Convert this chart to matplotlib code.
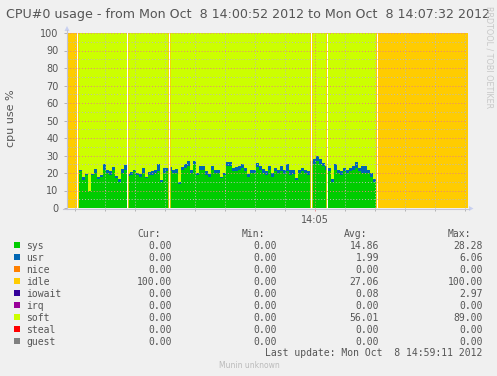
import numpy as np
import matplotlib
matplotlib.use("Agg")
import matplotlib.pyplot as plt
from matplotlib.patches import Polygon, Rectangle
from matplotlib.lines import Line2D

W, H = 497, 376
STEP = 3                      # seconds per stored sample
START_S = 14 * 3600 + 52      # 14:00:52
END_S = 14 * 3600 + 7 * 60 + 32   # 14:07:32

# ---- series (3-second samples, percent) ----
sys_vals = [0, 0, 0, 0,
            21, 16, 19, 10, 19, 20, 16.5, 18, 22, 20, 19, 22, 17, 15, 20, 22,
            18.5, 19, 21, 19, 18, 20, 17, 19, 19, 20, 21, 15, 20, 21,
            21, 20, 20, 14, 22, 23, 24, 20, 25, 19,
            22, 22, 19, 18, 22, 20, 20, 17, 19, 24,
            24, 21, 21, 22, 23, 21, 18, 20, 20, 23.5,
            22, 20, 19, 22, 18, 21, 20, 21, 19.5, 21,
            19, 19.5, 16, 20, 21, 20, 19,
            24, 25, 27, 25, 24, 22,
            21, 15, 22, 20, 19, 21, 20, 21, 22, 23, 21, 20, 20, 20, 18, 15,
            0, 0, 0, 0, 0, 0, 0, 0, 0, 0, 0, 0, 0, 0, 0, 0,
            0, 0, 0, 0, 0, 0, 0, 0, 0, 0, 0, 0, 0, 0, 0]
usr_vals = [0, 0, 0, 0,
            1, 1.5, 0.5, 0, 0.5, 2.5, 1, 1, 3, 2, 2, 1.5, 1.5, 1.5, 2.5, 2.5,
            1, 1.5, 1, 1, 1.5, 3, 1, 1.5, 2, 2, 4, 1, 3, 2,
            2.5, 2, 2.5, 1, 1.5, 2, 3, 2, 2, 1,
            2, 2, 2, 1.5, 2, 2, 1.5, 1, 1, 2.5,
            2.5, 2, 2.5, 2, 2, 2, 1.5, 2, 2, 2,
            2, 2.5, 2, 2, 2, 2, 1.5, 3, 2, 4,
            2.5, 2.5, 1, 2, 2, 2, 2,
            3, 3, 3, 3, 2, 2,
            2, 1.5, 3, 2, 2, 2, 2, 2, 2, 3.5, 2, 4, 4, 2, 2, 1.5,
            0, 0, 0, 0, 0, 0, 0, 0, 0, 0, 0, 0, 0, 0, 0, 0,
            0, 0, 0, 0, 0, 0, 0, 0, 0, 0, 0, 0, 0, 0, 0]
idle_vals = [100, 100, 100, 100,
             0, 0, 0, 0, 0, 0, 0, 0, 0, 0, 0, 0, 0, 0, 0, 0,
             0, 0, 0, 0, 0, 0, 0, 0, 0, 0, 0, 0, 0, 0,
             0, 0, 0, 0, 0, 0, 0, 0, 0, 0,
             0, 0, 0, 0, 0, 0, 0, 0, 0, 0,
             0, 0, 0, 0, 0, 0, 0, 0, 0, 0,
             0, 0, 0, 0, 0, 0, 0, 0, 0, 0,
             0, 0, 0, 0, 0, 0, 0,
             0, 0, 0, 0, 0, 0,
             0, 0, 0, 0, 0, 0, 0, 0, 0, 0, 0, 0, 0, 0, 0, 0,
             100, 100, 100, 100, 100, 100, 100, 100, 100, 100, 100, 100, 100, 100, 100, 100,
             100, 100, 100, 100, 100, 100, 100, 100, 100, 100, 100, 100, 100, 100, 100]
# unknown (missing) samples, seconds after start
unknown_secs = [10, 60, 102, 244, 260, 310]
# single-second idle flashes next to the gaps
idle_flash_secs = [61, 101, 103, 243, 245, 259]

# ---- legend table ----
labels = ["sys", "usr", "nice", "idle", "iowait", "irq", "soft", "steal", "guest"]
colors = ["#00CC00", "#0066B3", "#FF8000", "#FFCC00", "#330099",
          "#990099", "#CCFF00", "#FF0000", "#808080"]
cur_vals = [0.00, 0.00, 0.00, 100.00, 0.00, 0.00, 0.00, 0.00, 0.00]
min_vals = [0.00, 0.00, 0.00, 0.00, 0.00, 0.00, 0.00, 0.00, 0.00]
avg_vals = [14.86, 1.99, 0.00, 27.06, 0.08, 0.00, 56.01, 0.00, 0.00]
max_vals = [28.28, 6.06, 0.00, 100.00, 2.97, 0.00, 89.00, 0.00, 0.00]

title = "CPU#0 usage - from Mon Oct  8 14:00:52 2012 to Mon Oct  8 14:07:32 2012"
last_update = "Last update: Mon Oct  8 14:59:11 2012"

TXT = "#555555"
BG = "#F0F0F0"

fig = plt.figure(figsize=(W / 100, H / 100), dpi=100, facecolor=BG)


def px(x, y):
    return (x / W, 1 - y / H)


L, R, T, B = 66.5, 466.5, 33, 208
ax = fig.add_axes([L / W, 1 - B / H, (R - L) / W, (B - T) / H])
ax.set_facecolor("white")
span = END_S - START_S
ax.set_xlim(0, span)
ax.set_ylim(0, 100)
for s in ax.spines.values():
    s.set_visible(False)

sysa = np.array(sys_vals, float)
usra = np.array(usr_vals, float)
idla = np.array(idle_vals, float)
# softirq takes the remainder up to 100 % (stacked last among non-zero series)
softa = 100 - sysa - usra - idla
n = len(sysa)
t = np.arange(n + 1) * STEP


def ext(a):
    return np.append(a, a[-1])


stack = [(sysa, colors[0]), (usra, colors[1]), (idla, colors[3]), (softa, colors[6])]
base = np.zeros(n)
for vals, col in stack:
    top = base + vals
    ax.fill_between(t, ext(base), ext(top), step="post", color=col, lw=0, zorder=1)
    base = top

# one-second samples, aligned to whole pixels (1 s = 1 px)
for s in unknown_secs:
    ax.axvspan(s + 0.5, s + 1.5, color="white", lw=0, zorder=2)
for s in idle_flash_secs:
    ax.axvspan(s + 0.5, s + 1.5, color=colors[3], alpha=0.75, lw=0, zorder=2)

# grid
dot = (0, (1, 2))
for v in range(5, 100, 10):
    ax.axhline(v, color="#BBBBBB", lw=0.7, ls=dot, zorder=3)
for v in range(10, 101, 10):
    ax.axhline(v, color="#E88080", lw=0.7, ls=dot, zorder=3)
first_minor = (START_S + 29) // 30 * 30
minor_x = [m - START_S for m in range(first_minor, END_S + 1, 30)]
major_x = [m - START_S for m in range((START_S + 299) // 300 * 300, END_S + 1, 300)]
for x in minor_x:
    if x not in major_x:
        ax.axvline(x, color="#BBBBBB", lw=0.7, ls=dot, zorder=3)
for x in major_x:
    ax.axvline(x, color="#E88080", lw=0.7, ls=dot, zorder=3)

ax.set_yticks(range(0, 101, 10))
ax.set_yticklabels([str(v) for v in range(0, 101, 10)])
ax.set_xticks(major_x)
ax.set_xticklabels(["%02d:%02d" % ((m + START_S) // 3600, ((m + START_S) % 3600) // 60) for m in major_x])
ax.set_xticks(minor_x, minor=True)
ax.tick_params(axis="both", which="both", length=2.2, width=0.6, color="#AAAAAA",
               labelsize=7, labelcolor=TXT, pad=3.5)
ax.tick_params(axis="x", which="major", pad=2.5, color="#E88080")

# axis lines and arrows
axis_col = "#C4C4D4"
arrow_col = "#C8D0F0"
fig.add_artist(Line2D([px(67, 0)[0], px(67, 0)[0]], [px(0, 209)[1], px(0, 30)[1]],
                      color=axis_col, lw=0.8))
fig.add_artist(Line2D([px(63, 0)[0], px(469, 0)[0]], [px(0, 208.5)[1], px(0, 208.5)[1]],
                      color=axis_col, lw=0.8))
fig.add_artist(Polygon([px(64.5, 31), px(69.5, 31), px(67, 26)], closed=True,
                       color=arrow_col, lw=0))
fig.add_artist(Polygon([px(469, 206), px(469, 211), px(473.5, 208.5)], closed=True,
                       color=arrow_col, lw=0))

# title and labels
fig.text(*px(248.5, 18.3), title, ha="center", va="baseline", fontsize=9.1,
         color=TXT, family="DejaVu Sans")
fig.text(*px(11, 118), "cpu use %", ha="center", va="center", rotation=90,
         fontsize=8, color=TXT, family="DejaVu Sans")
fig.text(*px(489, 57), "RRDTOOL / TOBI OETIKER", ha="center", va="center",
         rotation=270, fontsize=5.8, color="#C8C8C8", family="DejaVu Sans")

# legend table
mono = dict(family="DejaVu Sans Mono", fontsize=7, color=TXT, va="baseline")
col_right = [172, 276.5, 379, 482.7]
col_head = ["Cur:", "Min:", "Avg:", "Max:"]
cw = 5.85
for xr, hd in zip(col_right, col_head):
    fig.text(*px(xr - 6 * cw, 237), hd, ha="left", **mono)
cols = [cur_vals, min_vals, avg_vals, max_vals]
for i, lab in enumerate(labels):
    yb = 249.3 + 12 * i
    fig.add_artist(Rectangle(px(14, yb - 1), 6 / W, 6 / H, color=colors[i], lw=0))
    fig.text(*px(26.5, yb), lab, ha="left", **mono)
    for xr, vals in zip(col_right, cols):
        fig.text(*px(xr, yb), "%.2f" % vals[i], ha="right", **mono)
fig.text(*px(482.7, 356), last_update, ha="right", **mono)
fig.text(*px(249, 367.5), "Munin unknown", ha="center", va="baseline",
         fontsize=5.5, color="#BBBBBB", family="DejaVu Sans")

fig.savefig("out.png", dpi=100, facecolor=BG)
